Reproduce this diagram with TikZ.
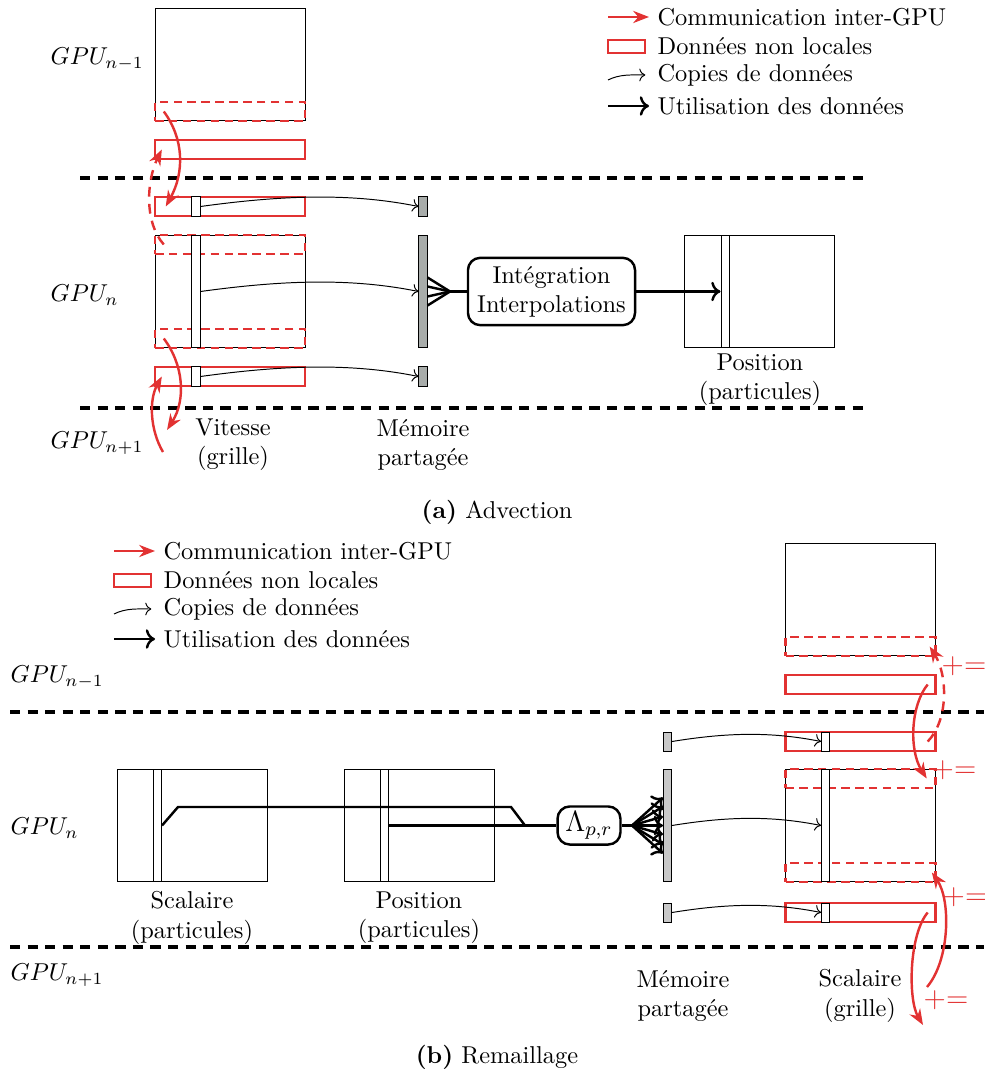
\documentclass[tikz,border=0pt]{standalone}
\usepackage{tikz}
\usetikzlibrary{arrows.meta,calc}
\definecolor{mred}{RGB}{226,50,50}
\definecolor{shA}{RGB}{168,172,170}
\definecolor{shB}{RGB}{200,200,200}
\tikzset{
  grid/.style={draw, minimum width=61.5pt, minimum height=46.3pt, inner sep=0pt},
  halo/.style={draw=mred, line width=1pt, minimum width=61.5pt, minimum height=7.8pt, inner sep=0pt},
  ghost/.style={halo, dash pattern=on 3.5pt off 2.2pt},
  colm/.style={draw, fill=white, minimum width=3.3pt, minimum height=#1, inner sep=0pt},
  shmem/.style={draw, fill=#1, minimum width=3.3pt, inner sep=0pt},
  comm/.style={draw=mred, line width=1pt, -{Stealth[length=6.5pt,width=5pt]}},
  copy/.style={->},
  use/.style={line width=1pt, ->},
  sep/.style={line width=1.5pt, dash pattern=on 4.2pt off 3pt},
  lbl/.style={align=center},
  proc/.style={draw, line width=1pt, rounded corners=5pt, align=center}
}
\begin{document}
\begin{tikzpicture}[x=0.41pt,y=-0.41pt]
\useasboundingbox (0,0) rectangle (984,1077);

% ---- (a) Advection ----
\node[anchor=west] (ga1) at (42,59) {$GPU_{n-1}$};
\node[anchor=west] (ga) at (42,295) {$GPU_n$};
\node[anchor=west] (ga2) at (42,443) {$GPU_{n+1}$};
\draw[sep] (80,178) -- (870,178);
\draw[sep] (80,408) -- (870,408);

% vitesse (grille)
\node[grid] (vn1) at (230,64.5) {};
\node[ghost] (vn1g) at (230,111.5) {};
\node[halo] (vh1) at (230,149.5) {};
\node[halo] (vh2) at (230,206.5) {};
\node[colm=7.8pt] (vc2) at (196,206.5) {};
\node[grid] (vn) at (230,291.5) {};
\node[ghost] (vng1) at (230,244.5) {};
\node[ghost] (vng2) at (230,338.5) {};
\node[colm=46.3pt] (vc) at (196,291.5) {};
\node[halo] (vh3) at (230,376.5) {};
\node[colm=7.8pt] (vc3) at (196,376.5) {};
\node[lbl] (lva) at (233,445) {Vitesse\\(grille)};

% memoire partagee
\node[shmem=shA, minimum height=7.8pt] (ma1) at (423,206.5) {};
\node[shmem=shA, minimum height=46.3pt] (ma) at (423,291.5) {};
\node[shmem=shA, minimum height=7.8pt] (ma2) at (423,376.5) {};
\node[lbl] (lma) at (423,445) {Mémoire\\partagée};

\draw[copy] (vc2.east) .. controls +(80,-11) and +(-69,-14) .. (ma1.west);
\draw[copy] (vc.east) .. controls +(80,-11) and +(-69,-14) .. (ma.west);
\draw[copy] (vc3.east) .. controls +(80,-11) and +(-69,-14) .. (ma2.west);

% communications
\coordinate (a3) at (167,430);
\coordinate (a4) at (163,452);
\draw[comm] ([xshift=4.1pt]vn1g.west) .. controls +(20,27) and +(19,-34.5) .. ([xshift=4.9pt]vh2.west);
\draw[comm, dash pattern=on 4pt off 3pt] ([xshift=4.1pt]vng1.west) .. controls +(-20,-22.5) and +(-15,30.5) .. ([xshift=3.3pt]vh1.west);
\draw[comm] ([xshift=4.1pt]vng2.west) .. controls +(20,26.5) and +(19,-30) .. (a3);
\draw[comm] (a4) .. controls +(-13,-22) and +(-13,23.5) .. ([xshift=3.3pt]vh3.west);

% integration
\coordinate (fa) at (450,291.5);
\foreach \y in {-14,-5,5,14}
  \draw[line width=1pt] ($(ma.east)+(0,\y)$) -- (fa);
\node[proc, minimum width=68.5pt, minimum height=27.5pt] (integ) at (551.5,291.5) {Intégration\\Interpolations};
\draw[line width=1pt] (fa) -- (integ.west);
\node[grid] (pa) at (759.5,291.5) {};
\node[colm=46.3pt] (pac) at (725,291.5) {};
\draw[use] (integ.east) -- (pac.west);
\node[lbl] (lpa) at (760,380) {Position\\(particules)};

% legende
\node[anchor=west] (lg1) at (649,17) {Communication inter-GPU};
\node[anchor=west] (lg2) at (649,46) {Données non locales};
\node[anchor=west] (lg3) at (649,75) {Copies de données};
\node[anchor=west] (lg4) at (649,106) {Utilisation des données};
\draw[comm] (lg1.west) ++(-41,0) -- (lg1.west);
\draw[mred, line width=1pt] (lg2.west) ++(-41,-6) rectangle ++(37,13);
\draw[copy] (lg3.west) ++(-41,5) .. controls +(12,-6) and +(-14,0) .. ([xshift=-1.5pt]lg3.west);
\draw[use] (lg4.west) ++(-41,0) -- (lg4.west);

\node (capa) at (497,512) {\textbf{(a)} Advection};

% ---- (b) Remaillage ----
\node[anchor=west] (gb1) at (2,677) {$GPU_{n-1}$};
\node[anchor=west] (gb) at (2,828) {$GPU_n$};
\node[anchor=west] (gb2) at (2,975) {$GPU_{n+1}$};
\draw[sep] (10,712) -- (984,712);
\draw[sep] (10,947) -- (984,947);

% particules
\node[grid] (sp) at (192,825.5) {};
\node[colm=46.3pt] (spc) at (157.5,825.5) {};
\node[grid] (pp) at (419,825.5) {};
\node[colm=46.3pt] (ppc) at (384.5,825.5) {};
\node[lbl] (lsp) at (192,918) {Scalaire\\(particules)};
\node[lbl] (lpp) at (419,918) {Position\\(particules)};

\node[proc, minimum width=25.8pt, minimum height=15.6pt, inner sep=2pt] (lam) at (589,825.5) {\large$\Lambda_{p,r}$};
\coordinate (jn) at (525,825.5);
\draw[line width=1pt] (spc.east) -- ++(16,-18.5) -- ++(333,0) -- (jn);
\draw[line width=1pt] (ppc.east) -- (lam.west);

% memoire partagee
\node[shmem=shB, minimum height=7.8pt] (mb1) at (667.5,741.5) {};
\node[shmem=shB, minimum height=46.3pt] (mb) at (667.5,825.5) {};
\node[shmem=shB, minimum height=7.8pt] (mb2) at (667.5,912.5) {};
\node[lbl] (lmb) at (683,996) {Mémoire\\partagée};

\coordinate (fb) at (632,825.5);
\draw[line width=1.4pt] (lam.east) -- (fb);
\foreach \y in {-28,-19,-9,0,9,19,28}
  \draw[use] (fb) -- ($(mb.west)+(0,\y)$);

% scalaire (grille)
\node[grid] (sn1) at (860.5,599.5) {};
\node[ghost] (sn1g) at (860.5,646.5) {};
\node[halo] (sh1) at (860.5,684.5) {};
\node[halo] (sh2) at (860.5,741.5) {};
\node[colm=7.8pt] (sc2) at (825.5,741.5) {};
\node[grid] (sn) at (860.5,825.5) {};
\node[ghost] (sng1) at (860.5,778.5) {};
\node[ghost] (sng2) at (860.5,872.5) {};
\node[colm=46.3pt] (sc) at (825.5,825.5) {};
\node[halo] (sh3) at (860.5,912.5) {};
\node[colm=7.8pt] (sc3) at (825.5,912.5) {};
\node[lbl] (lsn) at (860,996) {Scalaire\\(grille)};

\draw[copy] (mb1.east) .. controls +(55,-9) and +(-50,-10) .. (sc2.west);
\draw[copy] (mb.east) .. controls +(55,-9) and +(-50,-10) .. (sc.west);
\draw[copy] (mb2.east) .. controls +(55,-9) and +(-50,-10) .. (sc3.west);

% communications
\coordinate (b3) at (927,987);
\coordinate (b4) at (923,1025);
\draw[comm, dash pattern=on 4pt off 3pt] ([xshift=-3.7pt]sh2.east) .. controls +(21,-21.5) and +(18,28.5) .. ([xshift=-2.9pt]sn1g.east);
\draw[comm] ([xshift=-3.7pt]sh1.east) .. controls +(-17,20.5) and +(-18,-28.5) .. ([xshift=-4.1pt]sng1.east);
\draw[comm] (b3) .. controls +(23,-27) and +(19,27.5) .. ([xshift=-2pt]sng2.east);
\draw[comm] ([xshift=-3.7pt]sh3.east) .. controls +(-19,22.5) and +(-15,-25) .. (b4);
\node[text=mred, font=\large] (pe1) at (964,666) {+=};
\node[text=mred, font=\large] (pe2) at (954,770) {+=};
\node[text=mred, font=\large] (pe3) at (965,897) {+=};
\node[text=mred, font=\large] (pe4) at (946,1000) {+=};

% legende
\node[anchor=west] (lh1) at (155,551) {Communication inter-GPU};
\node[anchor=west] (lh2) at (155,580) {Données non locales};
\node[anchor=west] (lh3) at (155,609) {Copies de données};
\node[anchor=west] (lh4) at (155,639) {Utilisation des données};
\draw[comm] (lh1.west) ++(-41,0) -- (lh1.west);
\draw[mred, line width=1pt] (lh2.west) ++(-41,-6) rectangle ++(37,13);
\draw[copy] (lh3.west) ++(-41,5) .. controls +(12,-6) and +(-14,0) .. ([xshift=-1.5pt]lh3.west);
\draw[use] (lh4.west) ++(-41,0) -- (lh4.west);

\node (capb) at (497,1057) {\textbf{(b)} Remaillage};
\end{tikzpicture}
\end{document}
